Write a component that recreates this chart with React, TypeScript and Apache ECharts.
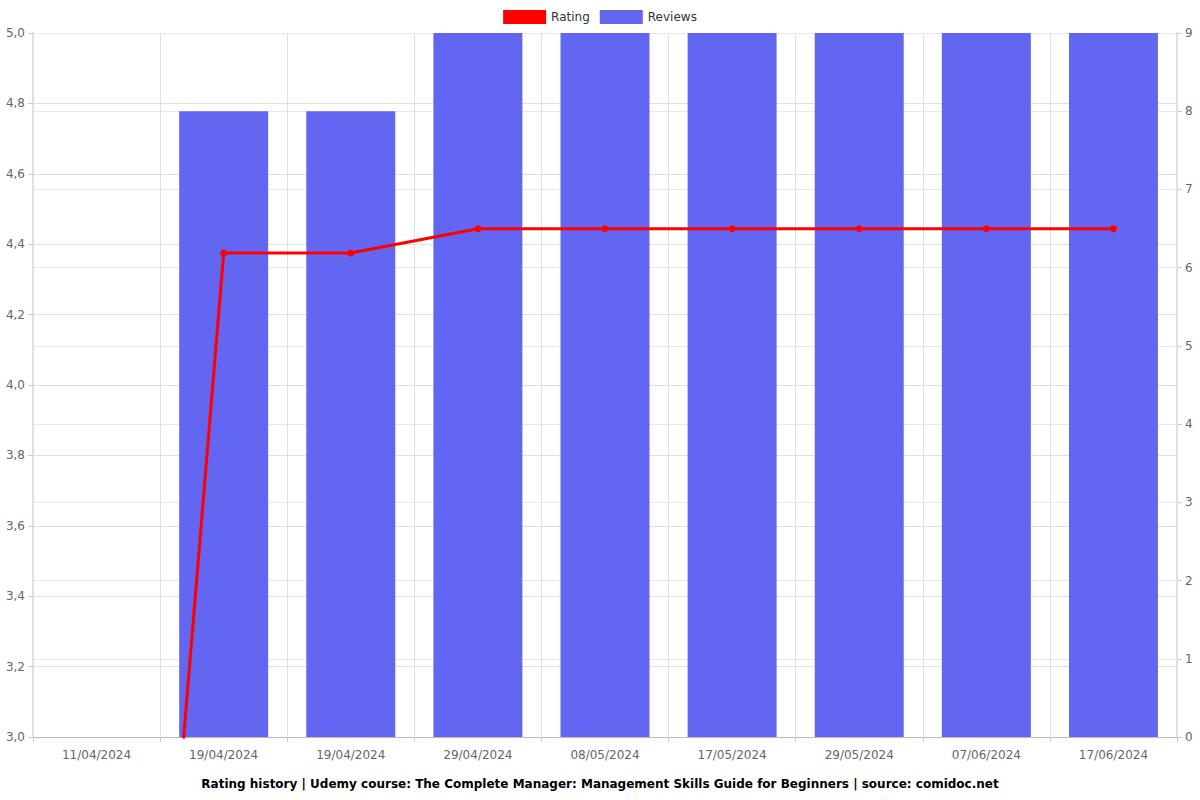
import React, { useEffect, useRef } from "react";
import * as echarts from "echarts";

const categories = ["11/04/2024", "19/04/2024", "19/04/2024", "29/04/2024", "08/05/2024", "17/05/2024", "29/05/2024", "07/06/2024", "17/06/2024"];
const ratingValues = [0, 4.375, 4.375, 4.444, 4.444, 4.444, 4.444, 4.444, 4.444];
const reviewValues = [0, 8, 8, 9, 9, 9, 9, 9, 9];
const titleText = "Rating history | Udemy course: The Complete Manager: Management Skills Guide for Beginners | source: comidoc.net";

export default function App() {
  const ref = useRef<HTMLDivElement>(null);
  useEffect(() => {
    if (!ref.current) return;
    const chart = echarts.init(ref.current, null, { renderer: "svg" });
    const font = "DejaVu Sans";
    chart.setOption({
      animation: false,
      textStyle: { fontFamily: font },
      title: {
        text: titleText,
        left: "center",
        bottom: 5,
        textStyle: { fontSize: 12, fontWeight: "bold", color: "#000", fontFamily: font },
      },
      legend: {
        top: 5,
        left: "center",
        itemWidth: 43,
        itemHeight: 14,
        itemGap: 10,
        textStyle: { fontSize: 12, color: "#333", fontFamily: font },
        data: [
          { name: "Rating", icon: "rect" },
          { name: "Reviews", icon: "rect" },
        ],
      },
      grid: { left: 33, right: 23, top: 33, bottom: 63, containLabel: false },
      xAxis: {
        type: "category",
        data: categories,
        axisLine: { lineStyle: { color: "#bbb" } },
        axisTick: { show: true, lineStyle: { color: "#ccc" } },
        axisLabel: { color: "#666", fontSize: 12, margin: 12, fontFamily: font },
        splitLine: { show: true, lineStyle: { color: "#e0e0e0" } },
      },
      yAxis: [
        {
          type: "value",
          min: 3,
          max: 5,
          interval: 0.2,
          position: "left",
          axisLine: { show: true, lineStyle: { color: "#e0e0e0", width: 2 } },
          axisTick: { show: true, lineStyle: { color: "#ccc" } },
          axisLabel: {
            color: "#666",
            fontSize: 12,
            fontFamily: font,
            formatter: (v: number) => v.toFixed(1).replace(".", ","),
          },
          splitLine: { show: true, lineStyle: { color: "#e0e0e0" } },
        },
        {
          type: "value",
          min: 0,
          max: 9,
          interval: 1,
          position: "right",
          axisLine: { show: true, lineStyle: { color: "#e0e0e0", width: 2 } },
          axisTick: { show: true, lineStyle: { color: "#ccc" } },
          axisLabel: { color: "#666", fontSize: 12, fontFamily: font },
          splitLine: { show: true, lineStyle: { color: "#e8e8e8" } },
        },
      ],
      series: [
        {
          name: "Rating",
          type: "line",
          yAxisIndex: 0,
          data: ratingValues,
          itemStyle: { color: "#ff0000" },
          lineStyle: { color: "#ff0000", width: 3 },
          symbol: "circle",
          symbolSize: 7,
          z: 3,
        },
        {
          name: "Reviews",
          type: "bar",
          yAxisIndex: 1,
          data: reviewValues,
          barWidth: "70%",
          itemStyle: { color: "#6366f1" },
          z: 2,
        },
      ],
    });
    return () => chart.dispose();
  }, []);
  return <div ref={ref} style={{ width: 1200, height: 800, position: "absolute", left: 0, top: 0 }} />;
}
